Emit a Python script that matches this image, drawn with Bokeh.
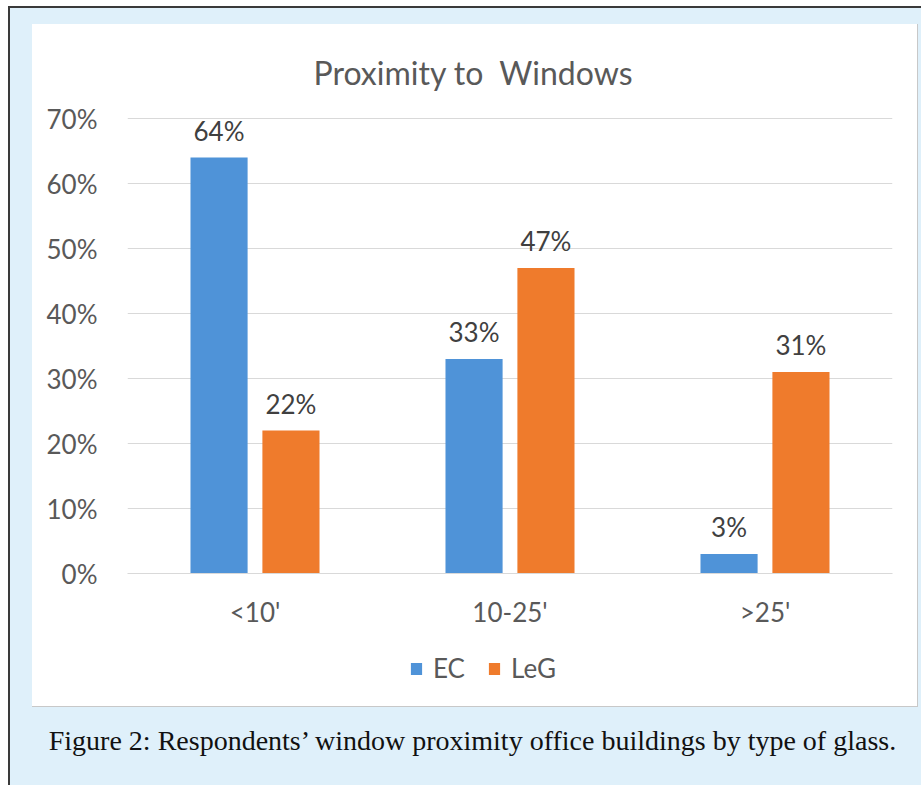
from bokeh.plotting import figure
from bokeh.layouts import column, row
from bokeh.models import (FactorRange, ColumnDataSource, LabelSet, Legend, LegendItem, Title,
                          NumeralTickFormatter, FixedTicker, Spacer, Range1d)
from bokeh.core.properties import value
from bokeh.transform import dodge
from bokeh.embed import file_html
from bokeh.resources import INLINE

# ---- data ----
categories = ["<10'", "10-25'", ">25'"]
series_names = ["EC", "LeG"]
ec_values = [0.64, 0.33, 0.03]
leg_values = [0.22, 0.47, 0.31]
y_ticks = [0.0, 0.1, 0.2, 0.3, 0.4, 0.5, 0.6, 0.7]
chart_title = "Proximity to\u00a0 Windows"
caption = "Figure 2: Respondents\u2019 window proximity office buildings by type of glass."

BLUE = "#4f93d8"
ORANGE = "#ef7b2c"
PAGE_BG = "#dff0fa"
EDGE = "#c8c8c8"
FONT = "Lato"

src = ColumnDataSource(dict(
    cat=categories,
    ec=ec_values,
    leg=leg_values,
    ec_lbl=[f"{round(v * 100)}%" for v in ec_values],
    leg_lbl=[f"{round(v * 100)}%" for v in leg_values],
))

CW, CH = 885, 616
xr = FactorRange(*categories)
p = figure(x_range=xr, y_range=(0, 0.72), width=CW, height=CH,
           output_backend="svg", toolbar_location=None,
           min_border_left=95, min_border_right=25, min_border_top=81, min_border_bottom=67,
           background_fill_color="white", border_fill_color="white", outline_line_color=None)

r1 = p.vbar(x=dodge('cat', -0.141, range=xr), top='ec', width=0.224, source=src,
            fill_color=BLUE, line_color=None)
r2 = p.vbar(x=dodge('cat', 0.141, range=xr), top='leg', width=0.224, source=src,
            fill_color=ORANGE, line_color=None)

for col, lbl, off in (("ec", "ec_lbl", -0.141), ("leg", "leg_lbl", 0.141)):
    p.add_layout(LabelSet(x=dodge('cat', off, range=xr), y=col, text=lbl, source=src,
                          y_offset=11, text_align="center", text_baseline="bottom",
                          text_font=value(FONT), text_font_size="26px", text_color="#404040"))

# axes
p.yaxis.ticker = FixedTicker(ticks=y_ticks)
p.yaxis.formatter = NumeralTickFormatter(format="0%")
p.yaxis.axis_line_color = None
p.yaxis.major_tick_line_color = None
p.yaxis.minor_tick_line_color = None
p.yaxis.major_label_standoff = 24
p.yaxis.major_label_text_font = FONT
p.yaxis.major_label_text_font_size = "26px"
p.yaxis.major_label_text_color = "#595959"

p.xaxis.axis_line_color = "#d9d9d9"
p.xaxis.major_tick_line_color = None
p.xaxis.minor_tick_line_color = None
p.xaxis.major_label_standoff = 16
p.xaxis.major_label_text_font = FONT
p.xaxis.major_label_text_font_size = "26px"
p.xaxis.major_label_text_color = "#595959"

p.xgrid.grid_line_color = None
p.ygrid.grid_line_color = "#d9d9d9"
p.ygrid.grid_line_width = 1

p.add_layout(Title(text=chart_title, align="left", offset=186, standoff=28,
                   text_font=FONT, text_font_size="32px", text_font_style="normal",
                   text_color="#595959"), "above")

# legend strip (white, part of the chart area); its bars fall outside its view
LH = 66
lf = figure(x_range=xr, y_range=Range1d(10, 11), width=CW, height=LH,
            output_backend="svg", toolbar_location=None, min_border=0,
            background_fill_color="white", border_fill_color="white", outline_line_color=None)
lf.axis.visible = False
lf.grid.visible = False
l1 = lf.vbar(x=dodge('cat', -0.141, range=xr), top='ec', width=0.224, source=src,
             fill_color=BLUE, line_color=None)
l2 = lf.vbar(x=dodge('cat', 0.141, range=xr), top='leg', width=0.224, source=src,
             fill_color=ORANGE, line_color=None)
legend = Legend(items=[LegendItem(label=series_names[0], renderers=[l1]),
                       LegendItem(label=series_names[1], renderers=[l2])],
                orientation="horizontal", location=(282, 22),
                glyph_width=14, glyph_height=15, label_standoff=10, spacing=22,
                padding=0, margin=0, border_line_color=None, background_fill_alpha=0,
                label_text_font=FONT, label_text_font_size="26px", label_text_color="#595959")
lf.add_layout(legend)

# caption strip
CAPW, CAPH = 911, 78
cap = figure(x_range=(0, CAPW), y_range=(0, CAPH), width=CAPW, height=CAPH,
             output_backend="svg", toolbar_location=None, min_border=0,
             background_fill_color=PAGE_BG, border_fill_color=PAGE_BG, outline_line_color=None)
cap.axis.visible = False
cap.grid.visible = False
cap.text(x=[463], y=[CAPH - 33], text=[caption], text_align="center", text_baseline="middle",
         text_font=value("Liberation Serif"), text_font_size="28px", text_color="#111111")

chart_block = column(p, lf, spacing=0, styles={"background-color": "white", "gap": "0px"})
layout = column(
    Spacer(height=16, width=CAPW),
    row(Spacer(width=22, height=CH + LH), chart_block,
        Spacer(width=1, height=CH + LH, styles={"background-color": EDGE}),
        styles={"gap": "0px"}),
    row(Spacer(width=22, height=1), Spacer(width=CW + 1, height=1, styles={"background-color": EDGE}),
        styles={"gap": "0px"}),
    cap,
    spacing=0,
    styles={"background-color": PAGE_BG, "border-top": "2px solid #3a3a3a",
            "border-left": "2px solid #3a3a3a", "gap": "0px",
            "margin-left": "8px", "margin-top": "6px"},
)

open("out.html", "w").write(file_html(layout, INLINE))
